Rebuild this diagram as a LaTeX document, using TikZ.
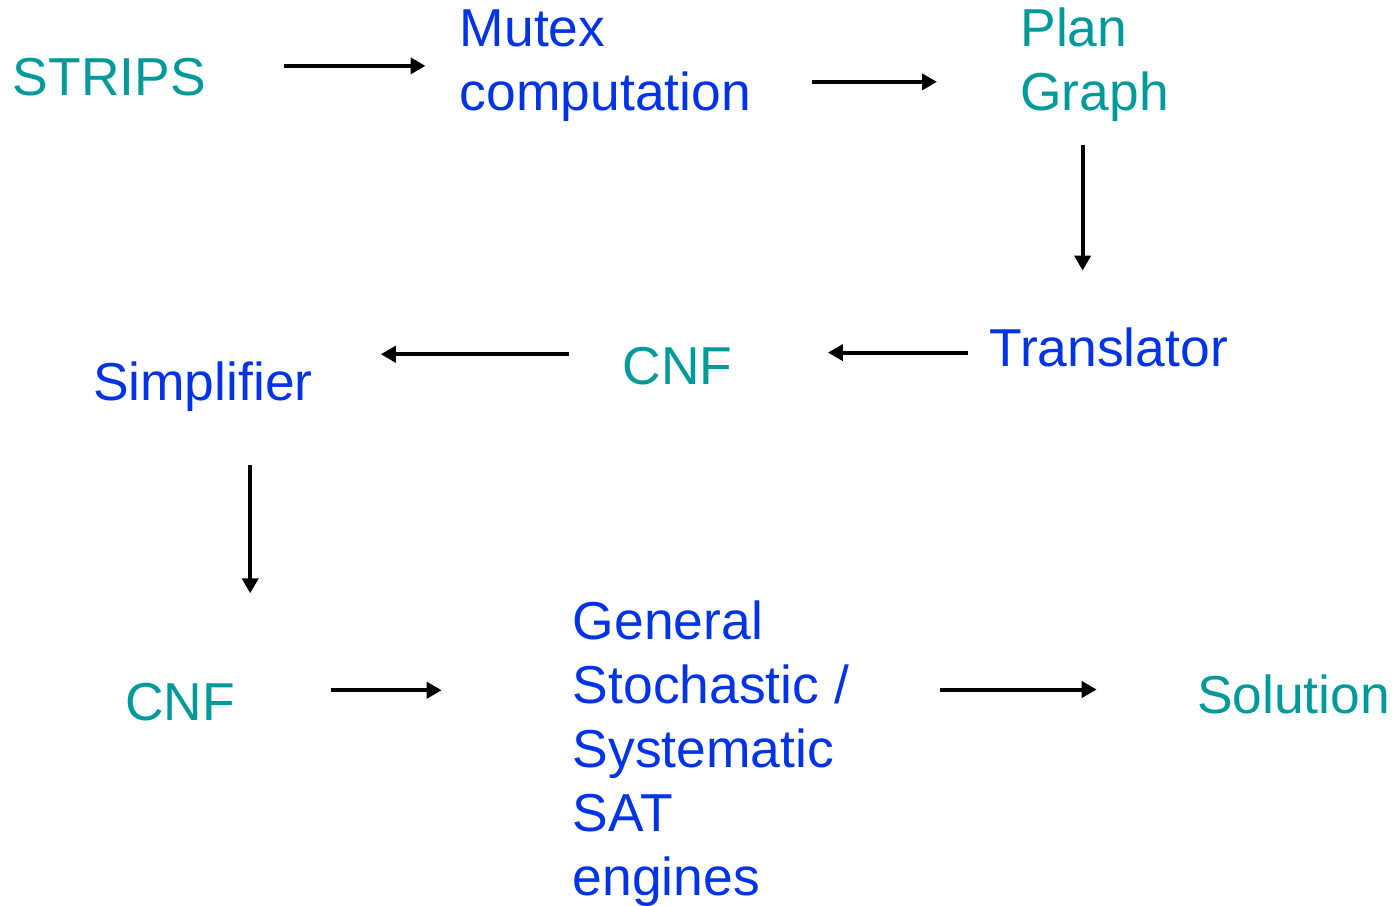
\documentclass[tikz,border=0pt]{standalone}
\usepackage{fontspec}
\setmainfont{Liberation Sans}
\usepackage{xcolor}
\usepackage{tikz}
\usetikzlibrary{arrows.meta, calc}

\definecolor{stagecol}{RGB}{0,153,153}
\definecolor{proccol}{RGB}{0,51,230}

\begin{document}
\begin{tikzpicture}[
    x=0.5pt, y=-0.5pt,
    datatext/.style={inner sep=0pt, anchor=base west, align=left, text=stagecol, font=\fontsize{26.7}{32}\selectfont},
    proctext/.style={inner sep=0pt, anchor=base west, align=left, text=proccol, font=\fontsize{26.7}{32}\selectfont},
    arrow/.style={-{Triangle[length=7.5pt, width=8pt]}, line width=2pt, black}
]
\useasboundingbox (0,0) rectangle (1395,905);

% multi-line nodes sit on their last line
\node[datatext] (strips) at (12.5,95.5) {STRIPS};
\node[proctext] (mutex) at (459.5,110.7) {Mutex\\computation};
\node[datatext] (plan) at (1020,110.7) {Plan\\Graph};
\node[proctext] (translator) at (989,366.7) {Translator};
\node[datatext] (cnfmid) at (622.4,384) {CNF};
\node[proctext] (simplifier) at (92.6,400) {Simplifier};
\node[datatext] (cnfbot) at (124.7,720) {CNF};
\node[proctext] (engines) at (572.5,895.3) {General\\Stochastic /\\Systematic\\SAT\\engines};
\node[datatext] (solution) at (1196.6,713.3) {Solution};

\draw[arrow] ($(strips.east |- mutex.west)+(78,0)$) -- ($(mutex.west)+(-34,0)$);
\draw[arrow] ($(mutex.east)+(61,16)$) -- ($(plan.west |- mutex.east)+(-83,16)$);
\draw[arrow] ($(plan.south)+(-12,23)$) -- ($(plan.south |- translator.north)+(-12,-57)$);
\draw[arrow] ($(translator.west)+(-21,5)$) -- ($(cnfmid.east |- translator.west)+(95,5)$);
\draw[arrow] ($(cnfmid.west)+(-53,-11.4)$) -- ($(simplifier.east |- cnfmid.west)+(67.8,-11.4)$);
\draw[arrow] ($(simplifier.south)+(47.4,54)$) -- ($(simplifier.south |- cnfbot.north)+(47.4,-89)$);
\draw[arrow] ($(cnfbot.east)+(95.4,-11.4)$) -- ($(engines.west |- cnfbot.east)+(-130.8,-11.4)$);
\draw[arrow] ($(engines.east |- solution.west)+(90.5,-4.7)$) -- ($(solution.west)+(-99.9,-4.7)$);

\end{tikzpicture}
\end{document}
